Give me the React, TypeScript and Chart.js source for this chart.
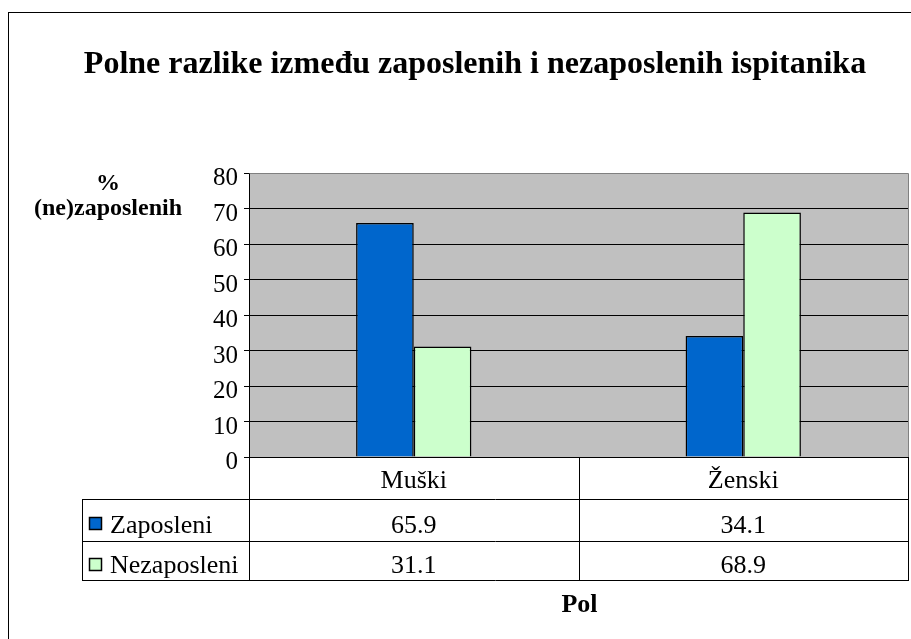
import React, { useEffect, useRef } from "react";
import { Chart, registerables } from "chart.js";

Chart.register(...registerables);

const title = "Polne razlike između zaposlenih i nezaposlenih ispitanika";
const yTitleLines = ["%", "(ne)zaposlenih"];
const xTitle = "Pol";
const categories = ["Muški", "Ženski"];
const seriesNames = ["Zaposleni", "Nezaposleni"];
const zaposleni = [65.9, 34.1];
const nezaposleni = [31.1, 68.9];
const seriesColors = ["#0066CC", "#CCFFCC"];
const yMin = 0;
const yMax = 80;
const yStep = 10;

const SERIF = '"Liberation Serif", "Times New Roman", serif';

const decorPlugin = {
  id: "decor",
  beforeDraw(chart: any) {
    const { ctx, chartArea } = chart;
    ctx.save();
    ctx.fillStyle = "#FFFFFF";
    ctx.fillRect(0, 0, chart.width, chart.height);
    ctx.fillStyle = "#C0C0C0";
    ctx.fillRect(chartArea.left, chartArea.top, chartArea.right - chartArea.left, chartArea.bottom - chartArea.top);
    ctx.restore();
  },
  afterDraw(chart: any) {
    const { ctx, chartArea, scales } = chart;
    const x = scales.x;
    const y = scales.y;
    const L = chartArea.left;
    const R = chartArea.right;
    const B = chartArea.bottom;
    ctx.save();

    // plot border top/right (gray)
    ctx.strokeStyle = "#808080";
    ctx.lineWidth = 1;
    ctx.beginPath();
    ctx.moveTo(Math.round(L) + 0.5, Math.round(chartArea.top) + 0.5);
    ctx.lineTo(Math.round(R) + 0.5, Math.round(chartArea.top) + 0.5);
    ctx.lineTo(Math.round(R) + 0.5, Math.round(B) + 0.5);
    ctx.stroke();

    // y tick labels
    ctx.fillStyle = "#000";
    ctx.font = `25px ${SERIF}`;
    ctx.textAlign = "right";
    ctx.textBaseline = "alphabetic";
    y.ticks.forEach((t: any) => {
      const py = y.getPixelForValue(t.value);
      ctx.fillText(String(t.value), 238, py + 12);
    });

    // frame
    ctx.strokeStyle = "#000";
    ctx.strokeRect(8.5, 12.5, 3000, 3000);

    // title
    ctx.font = `bold 32px ${SERIF}`;
    ctx.textAlign = "center";
    ctx.fillText(title, 475, 73);

    // y title
    ctx.font = `bold 24px ${SERIF}`;
    ctx.fillText(yTitleLines[0], 108, 190);
    ctx.fillText(yTitleLines[1], 108, 215);

    // x title
    ctx.font = `bold 26px ${SERIF}`;
    ctx.fillText(xTitle, (L + R) / 2 + 1, 612);

    // data table
    const tableLeft = 82;
    const row1 = 499;
    const row2 = 541;
    const row3 = 580;
    const mid = Math.round((x.getPixelForValue(0) + x.getPixelForValue(1)) / 2);
    ctx.strokeStyle = "#000";
    ctx.lineWidth = 1;
    ctx.beginPath();
    [row1, row2, row3].forEach((ry) => {
      ctx.moveTo(tableLeft, ry + 0.5);
      ctx.lineTo(Math.round(R) + 1, ry + 0.5);
    });
    ctx.moveTo(tableLeft + 0.5, row1);
    ctx.lineTo(tableLeft + 0.5, row3 + 1);
    ctx.moveTo(Math.round(L) + 0.5, Math.round(B));
    ctx.lineTo(Math.round(L) + 0.5, row3 + 1);
    ctx.moveTo(mid + 0.5, Math.round(B));
    ctx.lineTo(mid + 0.5, row3 + 1);
    ctx.moveTo(Math.round(R) + 0.5, Math.round(B));
    ctx.lineTo(Math.round(R) + 0.5, row3 + 1);
    ctx.stroke();

    ctx.font = `26px ${SERIF}`;
    ctx.textAlign = "center";
    ctx.fillStyle = "#000";
    categories.forEach((c, i) => {
      const px = x.getPixelForValue(i);
      ctx.fillText(c, px, 488);
    });
    const rows = [zaposleni, nezaposleni];
    const baselines = [533, 573];
    rows.forEach((vals, r) => {
      vals.forEach((v, i) => {
        const px = x.getPixelForValue(i);
        ctx.fillText(v.toFixed(1), px, baselines[r]);
      });
    });

    // legend keys in table
    ctx.textAlign = "left";
    const swatchTops = [517, 558];
    seriesNames.forEach((name, r) => {
      ctx.fillStyle = seriesColors[r];
      ctx.fillRect(89, swatchTops[r], 13, 13);
      ctx.strokeStyle = "#000";
      ctx.lineWidth = 1.5;
      ctx.strokeRect(89.5, swatchTops[r] + 0.5, 12, 12);
      ctx.fillStyle = "#000";
      ctx.fillText(name, 110, baselines[r]);
    });

    ctx.restore();
  },
};

export default function App() {
  const ref = useRef<HTMLCanvasElement | null>(null);
  useEffect(() => {
    if (!ref.current) return;
    const chart = new Chart(ref.current, {
      type: "bar",
      data: {
        labels: categories,
        datasets: [
          {
            label: seriesNames[0],
            data: zaposleni,
            backgroundColor: seriesColors[0],
            borderColor: "#000",
            borderWidth: 1.5,
            categoryPercentage: 0.35,
            barPercentage: 1,
          },
          {
            label: seriesNames[1],
            data: nezaposleni,
            backgroundColor: seriesColors[1],
            borderColor: "#000",
            borderWidth: 1.5,
            categoryPercentage: 0.35,
            barPercentage: 1,
          },
        ],
      },
      options: {
        responsive: false,
        animation: false,
        devicePixelRatio: 1,
        layout: { padding: { left: 0, right: 3, top: 173, bottom: 182 } },
        plugins: {
          legend: { display: false },
          title: { display: false },
          tooltip: { enabled: false },
        },
        scales: {
          x: {
            display: false,
            offset: true,
          },
          y: {
            min: yMin,
            max: yMax,
            ticks: { stepSize: yStep, display: false },
            grid: {
              color: "#000",
              lineWidth: 1,
              drawTicks: true,
              tickLength: 5,
            },
            border: { display: true, color: "#000", width: 1 },
            afterFit: (scale: any) => {
              scale.width = 249;
            },
          },
        },
      },
      plugins: [decorPlugin],
    });
    return () => chart.destroy();
  }, []);
  return (
    <div style={{ position: "absolute", left: 0, top: 0, width: 911, height: 639 }}>
      <canvas ref={ref} width={911} height={639} />
    </div>
  );
}
